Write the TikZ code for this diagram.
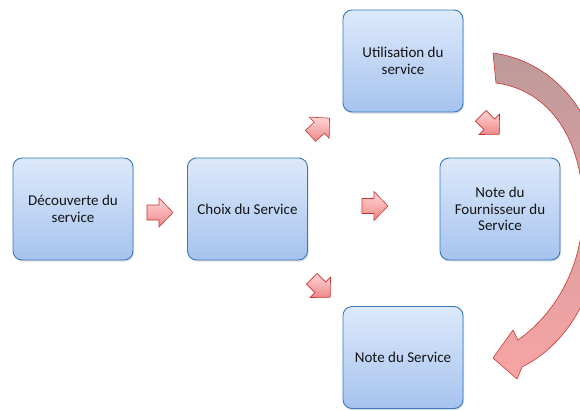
\documentclass[tikz,border=0pt]{standalone}
\usepackage{fontspec}
\setmainfont{Carlito}
\usetikzlibrary{shadows}
\definecolor{boxtop}{HTML}{DDE9FB}
\definecolor{boxbot}{HTML}{A6C3EE}
\definecolor{boxline}{HTML}{3579BF}
\definecolor{arrtop}{HTML}{FFD6D6}
\definecolor{arrbot}{HTML}{F08888}
\definecolor{arrline}{HTML}{CC3333}
\definecolor{bigtop}{HTML}{BE9A9A}
\definecolor{bigmid}{HTML}{D8A0A0}
\definecolor{bigbot}{HTML}{F8A4A4}
\begin{document}
\begin{tikzpicture}[x=1pt,y=-1pt,
  box/.style={draw=boxline, line width=0.9pt, rounded corners=9pt,
    minimum width=120pt, minimum height=102pt,
    top color=boxtop, bottom color=boxbot, align=center,
    font=\fontsize{15}{16.5}\selectfont, text=black!92,
    drop shadow={opacity=0.25, shadow xshift=1pt, shadow yshift=-1.5pt}},
  blkarrow/.style={draw=arrline, line width=0.6pt, top color=arrtop, bottom color=arrbot, line join=miter},
  blk/.pic={\path[blkarrow] (-13,-7.5) -- (-1,-7.5) -- (-1,-14.5) -- (13,0) -- (-1,14.5) -- (-1,7.5) -- (-13,7.5) -- cycle;}
]
\useasboundingbox (0,0) rectangle (580,410);
\fill[white] (0,0) rectangle (580,410);
\clip (0,0) rectangle (580,410);

\node[box] (decouverte) at (73,209) {Découverte du\\service};
\node[box] (choix) at (247.5,209) {Choix du Service};
\node[box] (utilisation) at (403,61) {Utilisation du\\service};
\node[box] (fournisseur) at (500,209) {Note du\\Fournisseur du\\Service};
\node[box] (noteservice) at (403,357.5) {Note du Service};

\pic at (160,212.5) {blk};
\pic[rotate=43] at (320,127) {blk};
\pic at (375,206) {blk};
\pic[rotate=-45] at (490,125) {blk};
\pic[rotate=-45] at (321,288) {blk};

\shade[top color=bigtop, middle color=bigmid, bottom color=bigbot, draw=arrline, line width=0.6pt, line join=miter]
 (493,53) .. controls (560,62) and (605,125) .. (604,200)
 .. controls (603,280) and (575,340) .. (522,367)
 -- (517,379) -- (493,358) -- (513,330) -- (518,340)
 .. controls (560,310) and (584,260) .. (583,205)
 .. controls (582,140) and (550,90) .. (496,83) -- cycle;
\end{tikzpicture}
\end{document}
